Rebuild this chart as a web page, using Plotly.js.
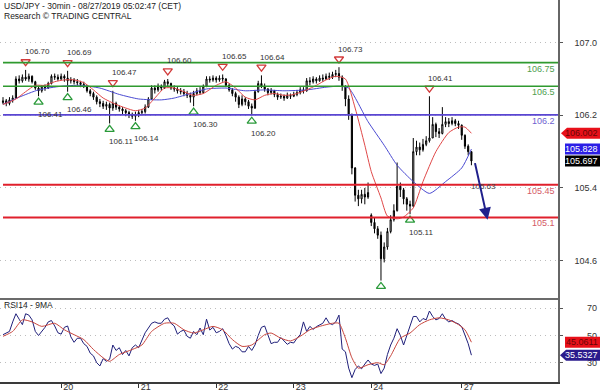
<!DOCTYPE html>
<html><head><meta charset="utf-8">
<script src="https://cdn.plot.ly/plotly-3.0.1.min.js"></script>
<style>html,body{margin:0;padding:0;background:#fff}#chart{width:600px;height:392px}</style>
</head><body><div id="chart"></div>
<script>
// ---------- DATA (hourly candles, index = hours from start) ----------
const dayTickHours = [18, 42, 66, 90, 114, 142];
const dayTickLabels = ['20', '21', '22', '23', '24', '27'];

const candleOpen = [
106.34,106.36,106.33,106.37,106.39,106.60,106.58,106.62,106.60,106.63,
106.57,106.50,106.47,106.51,106.50,106.55,106.63,106.62,106.60,106.63,
106.61,106.58,106.59,106.57,106.56,106.54,106.52,106.47,106.44,106.40,
106.35,106.33,106.30,106.32,106.28,106.33,106.29,106.27,106.25,106.23,
106.21,106.19,106.21,106.23,106.24,106.29,106.38,106.50,106.48,106.52,
106.50,106.57,106.55,106.50,106.49,106.47,106.46,106.44,106.42,106.40,
106.44,106.47,106.45,106.52,106.60,106.59,106.61,106.59,106.61,106.60,
106.53,106.48,106.44,106.40,106.32,106.38,106.35,106.30,106.28,106.46,
106.55,106.52,106.49,106.45,106.47,106.43,106.40,106.41,106.39,106.42,
106.41,106.43,106.45,106.48,106.47,106.58,106.57,106.60,106.58,106.61,
106.60,106.63,106.62,106.65,106.66,106.62,106.52,106.38,106.20,105.62,
105.32,105.28,105.33,105.30,105.10,105.02,104.95,104.88,104.62,104.75,
104.92,105.05,105.15,105.42,105.38,105.28,105.22,105.20,105.80,105.85,
105.82,105.88,105.92,105.95,106.10,106.02,106.00,106.10,106.13,106.11,
106.14,106.11,106.09,105.98,105.86,105.80];
const candleHigh = [
106.40,106.38,106.40,106.42,106.63,106.64,106.65,106.70,106.66,106.64,
106.58,106.52,106.53,106.54,106.57,106.65,106.66,106.65,106.66,106.65,
106.69,106.62,106.61,106.60,106.58,106.57,106.53,106.49,106.46,106.42,
106.38,106.36,106.35,106.34,106.47,106.35,106.31,106.29,106.27,106.25,
106.23,106.24,106.26,106.27,106.32,106.40,106.53,106.53,106.55,106.54,
106.59,106.60,106.56,106.53,106.51,106.50,106.49,106.47,106.45,106.47,
106.50,106.51,106.54,106.63,106.63,106.64,106.63,106.64,106.65,106.61,
106.55,106.50,106.46,106.42,106.42,106.40,106.37,106.33,106.48,106.58,
106.64,106.55,106.50,106.50,106.48,106.45,106.44,106.43,106.45,106.44,
106.46,106.48,106.51,106.51,106.61,106.62,106.63,106.62,106.64,106.65,
106.66,106.67,106.68,106.70,106.73,106.64,106.53,106.42,106.22,105.63,
105.38,105.38,105.40,105.46,105.12,105.08,104.98,104.92,104.80,104.96,
105.10,105.22,105.68,105.46,105.40,105.30,105.26,105.95,105.92,105.90,
105.94,105.97,106.41,106.18,106.12,106.06,106.29,106.18,106.17,106.18,
106.16,106.14,106.10,105.99,105.88,105.80];
const candleLow = [
106.32,106.30,106.31,106.34,106.38,106.55,106.56,106.58,106.57,106.55,
106.48,106.41,106.45,106.47,106.49,106.54,106.59,106.58,106.59,106.57,
106.46,106.55,106.54,106.53,106.51,106.50,106.45,106.41,106.37,106.32,
106.29,106.27,106.26,106.11,106.25,106.26,106.24,106.21,106.19,106.17,
106.16,106.14,106.18,106.20,106.22,106.28,106.37,106.44,106.46,106.47,
106.49,106.52,106.48,106.46,106.44,106.43,106.41,106.39,106.34,106.30,
106.42,106.43,106.44,106.51,106.56,106.57,106.56,106.57,106.57,106.51,
106.46,106.41,106.35,106.28,106.30,106.31,106.27,106.20,106.27,106.45,
106.50,106.46,106.42,106.43,106.40,106.37,106.38,106.36,106.38,106.38,
106.40,106.41,106.43,106.44,106.46,106.53,106.55,106.55,106.57,106.57,
106.59,106.59,106.60,106.62,106.58,106.47,106.30,106.15,105.55,105.25,
105.20,105.23,105.22,105.28,104.98,104.90,104.84,104.38,104.58,104.72,
104.90,105.03,105.14,105.30,105.22,105.15,105.11,105.19,105.76,105.76,
105.80,105.86,105.90,105.95,105.96,105.95,105.99,106.07,106.07,106.09,
106.08,106.05,105.93,105.83,105.76,105.65];
const candleClose = [
106.36,106.33,106.37,106.39,106.60,106.58,106.62,106.60,106.63,106.57,
106.50,106.47,106.51,106.50,106.55,106.63,106.62,106.60,106.63,106.61,
106.58,106.59,106.57,106.56,106.54,106.52,106.47,106.44,106.40,106.35,
106.33,106.30,106.32,106.28,106.33,106.29,106.27,106.25,106.23,106.21,
106.19,106.21,106.23,106.24,106.29,106.38,106.50,106.48,106.52,106.50,
106.57,106.55,106.50,106.49,106.47,106.46,106.44,106.42,106.40,106.44,
106.47,106.45,106.52,106.60,106.59,106.61,106.59,106.61,106.60,106.53,
106.48,106.44,106.40,106.32,106.38,106.35,106.30,106.28,106.46,106.55,
106.52,106.49,106.45,106.47,106.43,106.40,106.41,106.39,106.42,106.41,
106.43,106.45,106.48,106.47,106.58,106.57,106.60,106.58,106.61,106.60,
106.63,106.62,106.65,106.66,106.62,106.52,106.38,106.20,105.62,105.32,
105.28,105.33,105.30,105.35,105.02,104.95,104.88,104.62,104.75,104.92,
105.05,105.15,105.42,105.38,105.28,105.22,105.20,105.80,105.85,105.82,
105.88,105.92,105.95,106.10,106.02,106.00,106.10,106.13,106.11,106.14,
106.11,106.09,105.98,105.86,105.80,105.697];

// moving averages
const maFastHours = [0,4,7,10,13,16,19,22,25,28,31,35,38,41,44,47,50,53,56,59,62,66,69,72,75,78,81,84,87,90,94,97,100,103,106,109,112,114,117,119,122,124,127,130,134,138,141,143,145];
const maFastValues = [106.32,106.38,106.46,106.53,106.53,106.57,106.59,106.59,106.56,106.48,106.39,106.32,106.28,106.25,106.28,106.39,106.50,106.50,106.46,106.42,106.44,106.53,106.57,106.50,106.40,106.37,106.42,106.44,106.42,106.43,106.48,106.53,106.59,106.63,106.60,106.28,105.87,105.58,105.29,105.09,105.06,105.08,105.18,105.47,105.80,106.01,106.07,106.07,106.002];
const maSlowHours = [0,5,11,18,24,30,36,42,49,53,58,63,69,75,81,87,94,100,104,107,113,118,122,127,132,137,142,145];
const maSlowValues = [106.32,106.40,106.48,106.52,106.53,106.50,106.43,106.38,106.37,106.39,106.44,106.49,106.50,106.47,106.48,106.47,106.48,106.51,106.52,106.50,106.13,105.87,105.65,105.47,105.34,105.47,105.62,105.828];

// RSI14 per hour and its 9MA
const rsiValues = [
50.6,51.8,53,60,66,62,58,66,65,61.5,
53,50,53,56,60,61,57,52,51,56,
57,49,45,48,48,44,42,37,35,30,
27.6,33,31,32.5,43,39,41,36,39,35,
41,43,41,46,52,55.5,59,60,59,59,
62,63,59,57,51,53,54,49.4,48,53,
50.6,55.5,50.6,62,54,56,52,53,55,50,
44,40,42,41,38,38,42,39,43,50,
56,57,50,44,45,45,48.5,46,43.5,45,
44.5,48,50.6,60,53,56.7,54.5,56.5,58,59,
63,59,58,60,65,40,38,26,19,25,
27.6,25.5,29,32,29,28,29,22,26,36,
43,48,55,50,43,50.6,58,64,64,60,
62.5,61.5,68,64,61.5,62.5,66,62,60,61,
59.5,58.5,56.5,50.6,44,35.5327];
const rsiMaHours = [0,3,6,9,12,16,19,22,25,28,31,33,36,40,43,46,50,53,56,59,62,65,68,71,74,77,81,83,86,89,92,95,98,102,104,106,108,110,113,116,118,120,123,126,129,132,135,138,141,143,145];
const rsiMaValues = [49.4,53,61.5,60,56.7,59,54.2,50.6,47,39.7,33.6,31,36,39.7,43,53,59,59,54.2,51.8,54.2,56.7,54.2,47,42,43,50.6,51.8,48,46,49.4,54.2,56.7,59,59,48,33.6,26,28.5,30,28.5,35,48,51.8,58,61.5,63,61.5,58,54.2,45.0611];

// key levels
const levelValues = [106.78, 106.52, 106.205, 105.435, 105.075];
const levelLabels = ['106.75', '106.5', '106.2', '105.45', '105.1'];
const levelColors = ['#2f9a2f', '#2f9a2f', '#5a46d2', '#e0202c', '#e0202c'];
const levelTextColors = ['#4e9e4e', '#4e9e4e', '#6e5fd0', '#d45a66', '#d45a66'];

// pivots
const pivHighHours = [7, 20, 34, 51, 68, 80, 104, 132];
const pivHighValues = [106.70, 106.69, 106.47, 106.60, 106.65, 106.64, 106.73, 106.41];
const pivLowHours = [11, 20, 33, 41, 59, 77, 117, 126];
const pivLowValues = [106.41, 106.46, 106.11, 106.14, 106.30, 106.20, 104.38, 105.11];
const pivLowShowLabel = [true, true, true, true, true, true, false, true];

// forecast arrow
const arrowFrom = [146, 105.69];
const arrowTo = [150, 105.05];
const targetLabel = '105.63';

const mainTickVals = [104.6, 105.4, 106.2, 107.0];
const rsiTickVals = [30, 50, 70];
const titleLines = ['USD/JPY - 30min - 08/27/2019 05:02:47 (CET)', 'Research © TRADING CENTRAL'];

// ---------- LAYOUT ----------
const hours = candleClose.map((_, i) => i);
const W = 600, H = 392, M = {l: 0, r: 3, t: 0, b: 10};
const PH = H - M.t - M.b;
const xDomEnd = 558 / (W - M.l - M.r);
const split = 83 / PH;
const xRange = [-0.93, 171.8];
const mainRange = [104.177, 107.470];
const rsiRange = [15.8, 76.84];
const FONT = 'Liberation Sans, Arial, sans-serif';

const traces = [
  {type: 'candlestick', x: hours, open: candleOpen, high: candleHigh, low: candleLow, close: candleClose,
   xaxis: 'x', yaxis: 'y', whiskerwidth: 0,
   increasing: {line: {color: '#000', width: 1}, fillcolor: '#ffffff'},
   decreasing: {line: {color: '#000', width: 1}, fillcolor: '#000000'}, hoverinfo: 'skip'},
  {type: 'scatter', mode: 'lines', x: maSlowHours, y: maSlowValues, xaxis: 'x', yaxis: 'y',
   line: {color: '#4b4bd2', width: 1, shape: 'spline', smoothing: 0.6}},
  {type: 'scatter', mode: 'lines', x: maFastHours, y: maFastValues, xaxis: 'x', yaxis: 'y',
   line: {color: '#e04848', width: 1, shape: 'spline', smoothing: 0.6}},
  {type: 'scatter', mode: 'markers', x: pivHighHours, y: pivHighValues.map(v => v + 0.09), xaxis: 'x', yaxis: 'y',
   marker: {symbol: 'triangle-down-open', size: 8, color: '#d23a3a', line: {width: 1.3, color: '#d23a3a'}}},
  {type: 'scatter', mode: 'markers', x: pivLowHours, y: pivLowValues.map(v => v - 0.065), xaxis: 'x', yaxis: 'y',
   marker: {symbol: 'triangle-up-open', size: 8, color: '#2a9a3a', line: {width: 1.3, color: '#2a9a3a'}}},
  {type: 'scatter', mode: 'lines', x: hours, y: rsiValues, xaxis: 'x', yaxis: 'y2',
   line: {color: '#1f1f7a', width: 1}},
  {type: 'scatter', mode: 'lines', x: rsiMaHours, y: rsiMaValues, xaxis: 'x', yaxis: 'y2',
   line: {color: '#c8463e', width: 1, shape: 'spline', smoothing: 0.6}},
  {type: 'scatter', mode: 'markers', x: [null], y: [null], xaxis: 'x', yaxis: 'y3'},
  {type: 'scatter', mode: 'markers', x: [null], y: [null], xaxis: 'x', yaxis: 'y4'}
];

const shapes = [];
const annotations = [];
levelValues.forEach((v, i) => {
  shapes.push({type: 'line', xref: 'x', yref: 'y', x0: 0, x1: xRange[1], y0: v, y1: v,
    line: {color: levelColors[i], width: i >= 3 ? 2 : 1.6}});
  annotations.push({xref: 'paper', x: xDomEnd, xanchor: 'right', xshift: -1, yref: 'y', y: v, yanchor: 'middle', yshift: -6,
    text: levelLabels[i], showarrow: false, font: {family: FONT, size: 9, color: levelTextColors[i]}});
});
shapes.push({type: 'line', xref: 'paper', yref: 'paper', x0: 0, x1: xDomEnd, y0: split, y1: split,
  line: {color: '#3a3a3a', width: 1.5}});

pivHighHours.forEach((h, i) => {
  annotations.push({xref: 'x', yref: 'y', x: h, y: pivHighValues[i] + 0.09, xanchor: 'left', xshift: -3,
    yanchor: 'middle', yshift: 10, text: pivHighValues[i].toFixed(2), showarrow: false,
    font: {family: FONT, size: 8, color: '#333'}});
});
pivLowHours.forEach((h, i) => {
  if (!pivLowShowLabel[i]) return;
  annotations.push({xref: 'x', yref: 'y', x: h, y: pivLowValues[i] - 0.065, xanchor: 'left', xshift: -3,
    yanchor: 'middle', yshift: -12, text: pivLowValues[i].toFixed(2), showarrow: false,
    font: {family: FONT, size: 8, color: '#333'}});
});

annotations.push({xref: 'x', yref: 'y', x: arrowFrom[0] + 2.6, y: 105.42, text: targetLabel, showarrow: false,
  xanchor: 'center', yanchor: 'middle', font: {family: FONT, size: 8, color: '#444'}});
annotations.push({xref: 'x', yref: 'y', axref: 'x', ayref: 'y', x: arrowTo[0], y: arrowTo[1],
  ax: arrowFrom[0], ay: arrowFrom[1], text: '', showarrow: true, arrowhead: 2, arrowsize: 1.2,
  arrowwidth: 2, arrowcolor: '#20208c'});

function tag(yref, v, txt, bg, fc, arrow, left) {
  const path = arrow
    ? `M ${-left - 6} 0 L ${-left} 5.5 L 3 5.5 L 3 -5.5 L ${-left} -5.5 Z`
    : `M ${-left} 5.5 L 3 5.5 L 3 -5.5 L ${-left} -5.5 Z`;
  shapes.push({type: 'path', xref: 'paper', yref: yref, xsizemode: 'pixel', ysizemode: 'pixel',
    xanchor: 1, yanchor: v, path: path, fillcolor: bg, line: {width: 0}});
  annotations.push({xref: 'paper', x: 1, xanchor: 'right', xshift: 3, yref: yref, y: v, yanchor: 'middle',
    text: txt, showarrow: false, font: {family: FONT, size: 9, color: fc}});
}
const lastFast = maFastValues[maFastValues.length - 1];
const lastSlow = maSlowValues[maSlowValues.length - 1];
const lastClose = candleClose[candleClose.length - 1];
const lastRsi = rsiValues[rsiValues.length - 1];
const lastRsiMa = rsiMaValues[rsiMaValues.length - 1];
tag('y', lastFast, lastFast.toFixed(3), '#e8101a', '#6a0606', true, 30);
tag('y', lastSlow, lastSlow.toFixed(3), '#2b1ee6', '#ffffff', false, 32);
tag('y', lastClose, lastClose.toFixed(3), '#000000', '#ffffff', false, 32);
tag('y2', lastRsiMa, lastRsiMa.toFixed(4), '#e8101a', '#6a0606', false, 32);
tag('y2', lastRsi, lastRsi.toFixed(4), '#2a1a8c', '#ffffff', true, 31);

annotations.push({xref: 'paper', yref: 'paper', x: 0.004, y: (PH - 305) / PH, xanchor: 'left', yanchor: 'middle',
  text: 'RSI14 - 9MA', showarrow: false, font: {family: FONT, size: 8.5, color: '#222'}});
// header lines
[6, 16.5].forEach((py, i) => {
  annotations.push({xref: 'paper', yref: 'paper', x: 0.0035, y: (PH - py) / PH, xanchor: 'left', yanchor: 'middle',
    text: titleLines[i], showarrow: false, font: {family: FONT, size: 8.5, color: '#222'}});
});

const grid = {showgrid: true, gridcolor: '#bdbdbd', griddash: '1px,4px', gridwidth: 1, zeroline: false};
const layout = {
  width: W, height: H, margin: M, paper_bgcolor: '#fff', plot_bgcolor: '#fff',
  showlegend: false, hovermode: false, boxgap: 0.5,
  font: {family: FONT, size: 9, color: '#333'},
  xaxis: {domain: [0, xDomEnd], anchor: 'y2', range: xRange, rangeslider: {visible: false},
    tickmode: 'array', tickvals: dayTickHours, ticktext: dayTickLabels, ticks: 'outside', ticklen: 4,
    tickcolor: '#333', showline: true, linecolor: '#3a3a3a', linewidth: 1.5, showgrid: false, zeroline: false,
    ticklabelshift: 7, ticklabelstandoff: -8, tickfont: {family: FONT, size: 9, color: '#333'}, fixedrange: true},
  yaxis: Object.assign({domain: [split, 1], anchor: 'x', side: 'right', range: mainRange,
    tickmode: 'array', tickvals: mainTickVals, showticklabels: false, ticks: 'outside', ticklen: 3, tickcolor: '#555',
    showline: true, linecolor: '#666', linewidth: 1.5, fixedrange: true}, grid),
  yaxis3: {overlaying: 'y', anchor: 'free', position: 1, side: 'left', range: mainRange,
    tickmode: 'array', tickvals: mainTickVals, ticktext: mainTickVals.map(v => v.toFixed(1)),
    ticks: '', showline: false, showgrid: false, zeroline: false, tickfont: {family: FONT, size: 9, color: '#333'}, fixedrange: true},
  yaxis2: Object.assign({domain: [0, split], anchor: 'x', side: 'right', range: rsiRange,
    tickmode: 'array', tickvals: rsiTickVals, showticklabels: false, ticks: 'outside', ticklen: 3, tickcolor: '#555',
    showline: true, linecolor: '#666', linewidth: 1.5, fixedrange: true}, grid),
  yaxis4: {overlaying: 'y2', anchor: 'free', position: 1, side: 'left', range: rsiRange,
    tickmode: 'array', tickvals: rsiTickVals, ticktext: rsiTickVals.map(String),
    ticks: '', showline: false, showgrid: false, zeroline: false, tickfont: {family: FONT, size: 9, color: '#333'}, fixedrange: true},
  shapes: shapes, annotations: annotations
};
Plotly.newPlot('chart', traces, layout, {staticPlot: true, displayModeBar: false});
</script></body></html>
